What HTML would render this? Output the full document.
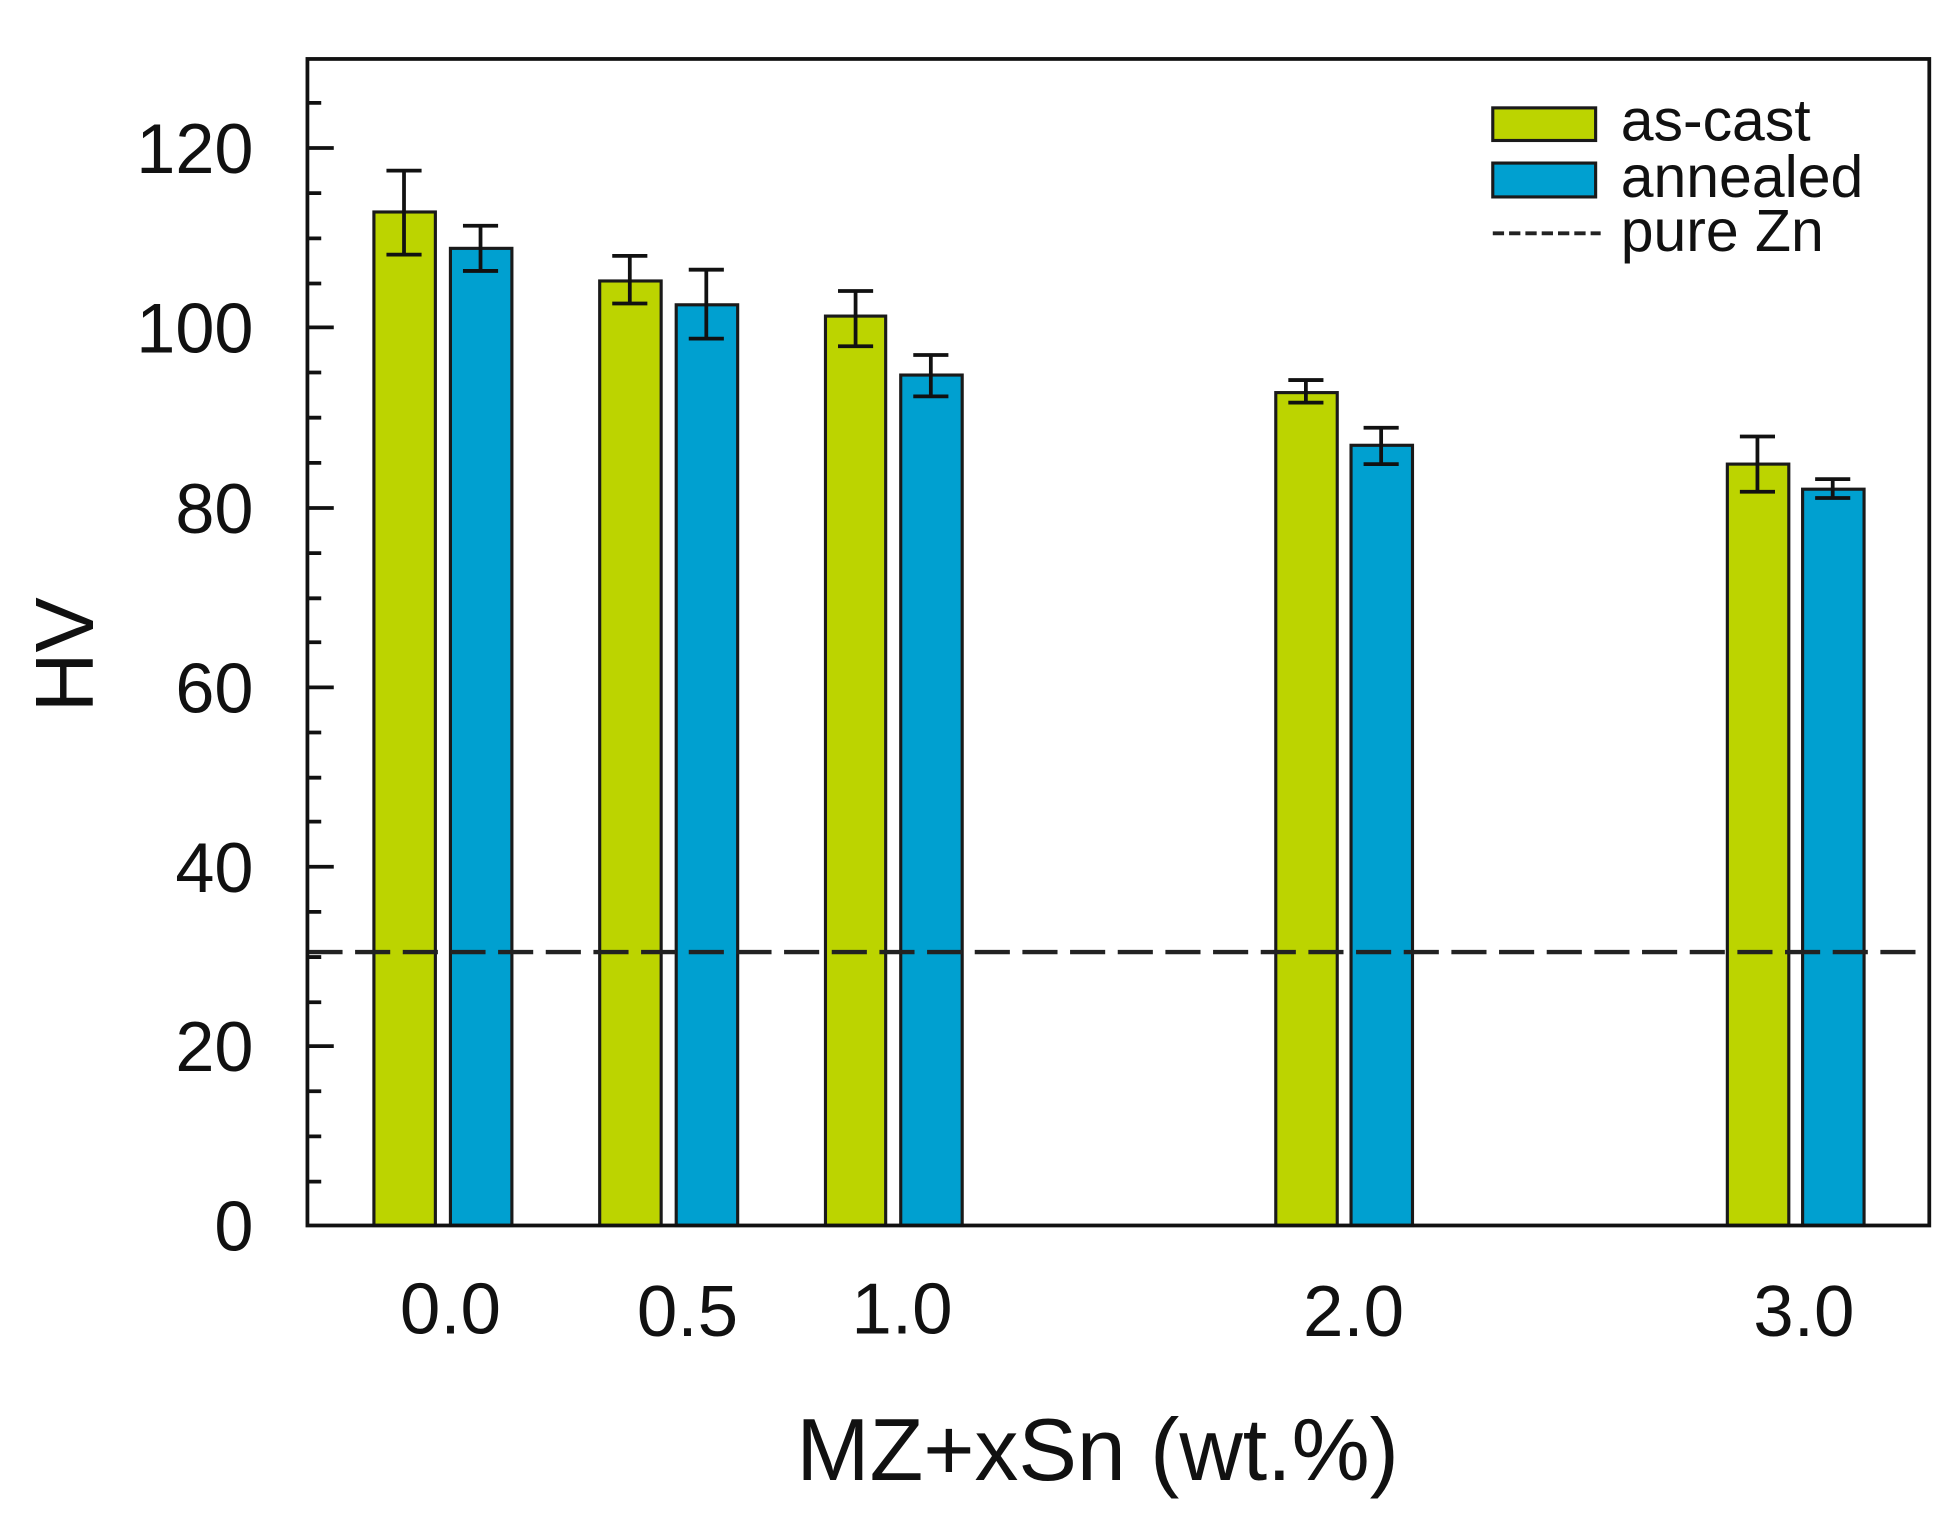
<!DOCTYPE html>
<html><head><meta charset="utf-8"><style>html,body{margin:0;padding:0;background:#fff}svg{display:block}</style></head>
<body>
<svg width="1957" height="1519" viewBox="0 0 1560 1211" xmlns="http://www.w3.org/2000/svg" font-family="Liberation Sans, Arial, sans-serif">
<rect width="1560" height="1211" fill="#fff"/>
<g stroke="#1a1a1a" stroke-width="2.5" fill="#bcd400">
<rect x="298" y="169" width="49" height="808"/>
<rect x="478" y="224" width="49" height="753"/>
<rect x="658" y="252" width="48" height="725"/>
<rect x="1017" y="313" width="49" height="664"/>
<rect x="1377" y="370" width="49" height="607"/>
</g>
<g stroke="#1a1a1a" stroke-width="2.5" fill="#00a0d0">
<rect x="359" y="198" width="49" height="779"/>
<rect x="539" y="243" width="49" height="734"/>
<rect x="718" y="299" width="49" height="678"/>
<rect x="1077" y="355" width="49" height="622"/>
<rect x="1437" y="390" width="49" height="587"/>
</g>
<g stroke="#111" stroke-width="3" fill="none">
<path d="M322 136V203M308 136H336M308 203H336"/>
<path d="M383 180V216M369 180H397M369 216H397"/>
<path d="M502 204V242M488 204H516M488 242H516"/>
<path d="M563 215V270M549 215H577M549 270H577"/>
<path d="M682 232V276M668 232H696M668 276H696"/>
<path d="M742 283V316M728 283H756M728 316H756"/>
<path d="M1041 303V321M1027 303H1055M1027 321H1055"/>
<path d="M1101 341V370M1087 341H1115M1087 370H1115"/>
<path d="M1401 348V392M1387 348H1415M1387 392H1415"/>
<path d="M1461 382V397M1447 382H1475M1447 397H1475"/>
</g>
<line x1="245" y1="759" x2="1538" y2="759" stroke="#222" stroke-width="3.5" stroke-dasharray="28,10"/>
<rect x="245" y="47" width="1293" height="930" fill="none" stroke="#111" stroke-width="3"/>
<g stroke="#111" stroke-width="3">
<path d="M245 118H266M245 261H266M245 405H266M245 548H266M245 691H266M245 834H266"/>
<path d="M245 82H256M245 154H256M245 190H256M245 226H256M245 297H256M245 333H256M245 369H256M245 441H256M245 477H256M245 512H256M245 584H256M245 620H256M245 655H256M245 727H256M245 763H256M245 799H256M245 870H256M245 906H256M245 942H256"/>
</g>
<g font-size="56" fill="#111" text-anchor="end">
<text x="202" y="138">120</text>
<text x="202" y="281">100</text>
<text x="202" y="425">80</text>
<text x="202" y="568">60</text>
<text x="202" y="711">40</text>
<text x="202" y="854">20</text>
<text x="202" y="997">0</text>
</g>
<g font-size="58" fill="#111" text-anchor="middle">
<text x="359" y="1063">0.0</text>
<text x="548" y="1065">0.5</text>
<text x="719" y="1063">1.0</text>
<text x="1079" y="1065">2.0</text>
<text x="1438" y="1065">3.0</text>
</g>
<text x="875" y="1180" font-size="70" fill="#111" text-anchor="middle">MZ+xSn (wt.%)</text>
<text transform="translate(74,522) rotate(-90)" font-size="66" fill="#111" text-anchor="middle">HV</text>
<rect x="1190" y="86" width="82" height="26" fill="#bcd400" stroke="#1a1a1a" stroke-width="2.5"/>
<rect x="1190" y="130" width="82" height="27" fill="#00a0d0" stroke="#1a1a1a" stroke-width="2.5"/>
<line x1="1190" y1="186" x2="1276" y2="186" stroke="#222" stroke-width="3" stroke-dasharray="9,4"/>
<g font-size="47" fill="#111">
<text x="1292" y="112">as-cast</text>
<text x="1292" y="157">annealed</text>
<text x="1292" y="200">pure Zn</text>
</g>
</svg>
</body></html>
